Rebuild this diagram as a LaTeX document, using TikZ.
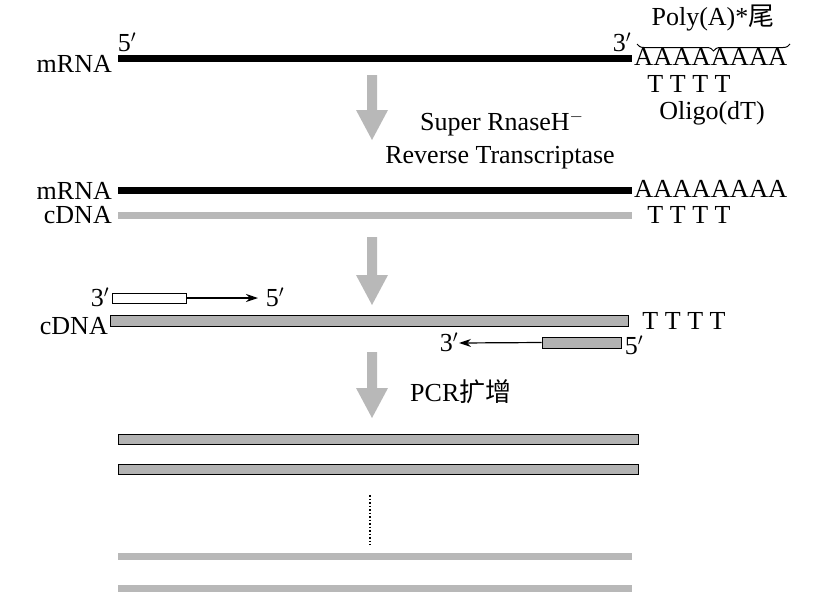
\documentclass[tikz,border=0pt]{standalone}
\usepackage{fontspec}
\setmainfont{Liberation Serif}
\newfontfamily\cjk{Noto Sans CJK SC}
\usetikzlibrary{decorations.pathreplacing,arrows.meta}
\begin{document}
\begin{tikzpicture}[x=1pt,y=-1pt,
  t/.style={font=\fontsize{26}{26}\selectfont,inner sep=0pt},
  garrow/.style={fill=black!28,draw=none},
  bar/.style={line width=7pt},
  gbox/.style={fill=black!30,draw=black,line width=1pt},
  thin/.style={-{Stealth[length=12pt,width=8pt]},line width=1.2pt}]
\useasboundingbox (0,0) rectangle (818,603);
% row 1
\draw[bar] (118,58) -- (632,58);
\node[t,anchor=east] (l1) at (112,64) {mRNA};
\node[t] (p5a) at (127,42) {5$'$};
\node[t] (p3a) at (622,42) {3$'$};
\node[t,anchor=west,xscale=1.02] (A1) at (634,57) {AAAAAAAA};
\draw[decorate,decoration={brace,amplitude=7pt,mirror},line width=1pt] (637,44) -- (790,44);
\node[t] (poly) at (713,18) {Poly(A)*{\cjk 尾}};
\node[t] (T1) at (689,84) {T T T T};
\node[t] (oligo) at (712,113) {Oligo(dT)};
% arrow 1
\path[garrow] (367,75) -- (377,75) -- (377,110) -- (388,110) -- (372,140) -- (356,110) -- (367,110) -- cycle;
\node[t,anchor=west] (sup) at (420,124) {Super RnaseH$^{-}$};
\node[t] (rt) at (500,158) {Reverse Transcriptase};
% row 2
\draw[bar] (118,190) -- (632,190);
\node[t,anchor=east] (l2) at (112,191) {mRNA};
\node[t,anchor=west,xscale=1.02] (A2) at (634,189) {AAAAAAAA};
\draw[bar,black!28] (118,215) -- (632,215);
\node[t,anchor=east] (l3) at (112,215) {cDNA};
\node[t] (T2) at (689,215) {T T T T};
% arrow 2
\path[garrow] (367,237) -- (377,237) -- (377,275) -- (388,275) -- (372,305) -- (356,275) -- (367,275) -- cycle;
% row 3
\node[draw=black,line width=1pt,fill=white,minimum width=74pt,minimum height=10pt,inner sep=0pt] (pr1) at (149,298) {};
\coordinate (e1) at (258,298);
\draw[thin] (pr1.east) -- (e1);
\node[t] (p3b) at (100,297) {3$'$};
\node[t] (p5b) at (275,297) {5$'$};
\node[gbox,minimum width=518pt,minimum height=11pt,inner sep=0pt] (cd) at (369,320.5) {};
\node[t,anchor=east] (l4) at (108,326) {cDNA};
\node[t] (T3) at (684,321) {T T T T};
\node[gbox,minimum width=79pt,minimum height=11pt,inner sep=0pt] (pr2) at (581.5,342.5) {};
\coordinate (e2) at (459,343);
\draw[thin] (pr2.west) -- (e2);
\node[t] (p3c) at (449,342) {3$'$};
\node[t] (p5c) at (634,345) {5$'$};
% arrow 3
\path[garrow] (367,352) -- (377,352) -- (377,388) -- (388,388) -- (372,418) -- (356,388) -- (367,388) -- cycle;
\node[t,anchor=west] (pcr) at (410,392) {PCR{\cjk 扩增}};
% products
\node[gbox,minimum width=520pt,minimum height=10pt,inner sep=0pt] (b1) at (378,439) {};
\node[gbox,minimum width=520pt,minimum height=10pt,inner sep=0pt] (b2) at (378,469.5) {};
\draw[line width=1.5pt,dotted] (370,495) -- (370,545);
\draw[bar,black!28] (118,556) -- (632,556);
\draw[bar,black!28] (118,588) -- (632,588);
\end{tikzpicture}
\end{document}
